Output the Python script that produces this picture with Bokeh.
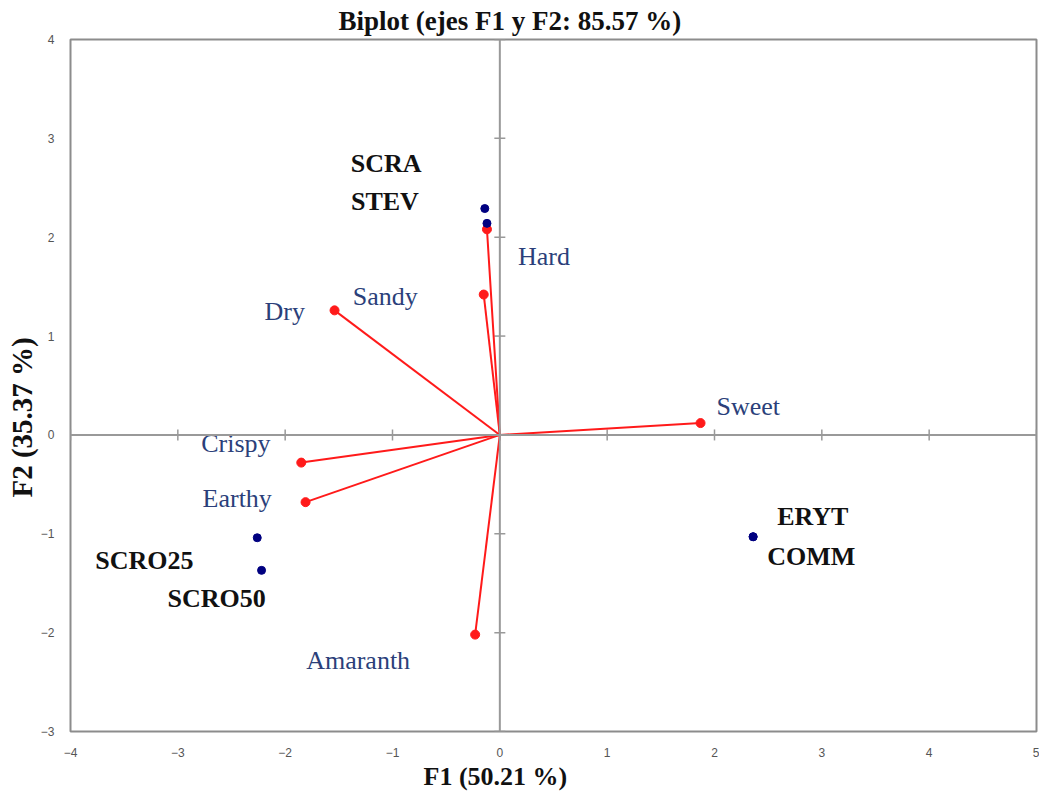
from bokeh.plotting import figure
from bokeh.models import Span, FixedTicker, ColumnDataSource, Title
from bokeh.core.properties import value
from bokeh.embed import file_html
from bokeh.resources import INLINE

# Observations (F1, F2)
obs_names = ["SCRA", "STEV", "SCRO25", "SCRO50", "ERYT", "COMM"]
obs_f1 = [-0.14, -0.12, -2.26, -2.22, 2.36, 2.36]
obs_f2 = [2.29, 2.14, -1.04, -1.37, -1.03, -1.03]

# Variables (F1, F2)
var_names = ["Hard", "Sandy", "Dry", "Sweet", "Crispy", "Earthy", "Amaranth"]
var_f1 = [-0.12, -0.15, -1.54, 1.87, -1.85, -1.81, -0.23]
var_f2 = [2.08, 1.42, 1.26, 0.12, -0.28, -0.68, -2.02]

x_ticks = [-4, -3, -2, -1, 0, 1, 2, 3, 4, 5]
y_ticks = [-3, -2, -1, 0, 1, 2, 3, 4]

# label offsets in screen pixels (styling; +y is downwards)
obs_dx = [-134, -136, -162, -94, 24, 14]
obs_dy = [-45, -22, 23, 28, -20, 20]
var_dx = [31, -131, -70, 16, -100, -103, -169]
var_dy = [27, 2, 1, -17, -19, -4, 26]

TNR = "Liberation Serif"
NARROW = "Liberation Sans Narrow, Liberation Sans, Arial Narrow"

p = figure(width=1039, height=802, x_range=(-4, 5), y_range=(-3, 4),
           output_backend="svg", toolbar_location=None,
           min_border_left=70, min_border_right=3, min_border_top=39, min_border_bottom=71,
           title="Biplot (ejes F1 y F2: 85.57 %)")
p.title.align = "left"
p.title.text_font = TNR
p.title.text_font_size = "27px"
p.title.text_font_style = "bold"
p.title.text_color = "#111111"
p.title.offset = 268
p.title.standoff = 7

p.grid.visible = False
p.outline_line_color = "#8c8c8c"
p.outline_line_width = 2
p.background_fill_color = "white"
p.border_fill_color = "white"

for ax in (p.xaxis[0], p.yaxis[0]):
    ax.axis_line_color = None
    ax.major_tick_line_color = None
    ax.minor_tick_line_color = None
    ax.major_label_text_font = NARROW
    ax.major_label_text_font_size = "12px"
    ax.major_label_text_color = "#555555"

p.xaxis.ticker = FixedTicker(ticks=x_ticks)
p.yaxis.ticker = FixedTicker(ticks=y_ticks)
p.xaxis.major_label_standoff = 10
p.yaxis.major_label_standoff = 10

# axis titles (as side titles so they can be offset like the original)
xt = Title(text="F1 (50.21 %)", align="left", offset=353, text_font=TNR,
           text_font_size="26px", text_font_style="bold", text_color="#111111", standoff=0)
p.add_layout(xt, "below")
yt = Title(text="F2 (35.37 %)", align="left", offset=234, text_font=TNR,
           text_font_size="29px", text_font_style="bold", text_color="#111111", standoff=0)
p.add_layout(yt, "left")

# zero lines
p.add_layout(Span(location=0, dimension="height", line_color="#999999", line_width=2))
p.add_layout(Span(location=0, dimension="width", line_color="#999999", line_width=2))
# tick marks on zero lines
p.scatter([0] * len(y_ticks), y_ticks, marker="dash", size=11, line_color="#999999", line_width=1.5)
p.scatter(x_ticks, [0] * len(x_ticks), marker="dash", angle=1.5708, size=11, line_color="#999999", line_width=1.5)

# vectors
p.segment(x0=[0] * len(var_f1), y0=[0] * len(var_f1), x1=var_f1, y1=var_f2,
          line_color="#ff1a1a", line_width=2)
p.scatter(var_f1, var_f2, size=9, fill_color="#ff1a1a", line_color="#ff1a1a")

# observations
p.scatter(obs_f1, obs_f2, size=8, fill_color="#000080", line_color="#000080")

vsrc = ColumnDataSource(dict(x=var_f1, y=var_f2, t=var_names, dx=var_dx, dy=var_dy))
p.text("x", "y", text="t", source=vsrc, x_offset="dx", y_offset="dy",
       text_font=value(TNR), text_font_size="26px", text_color="#2b3f7a",
       text_baseline="middle", text_align="left")

osrc = ColumnDataSource(dict(x=obs_f1, y=obs_f2, t=obs_names, dx=obs_dx, dy=obs_dy))
p.text("x", "y", text="t", source=osrc, x_offset="dx", y_offset="dy",
       text_font=value(TNR), text_font_size="26px", text_font_style="bold",
       text_color="#111111", text_baseline="middle", text_align="left")

open("out.html", "w").write(file_html(p, INLINE))
